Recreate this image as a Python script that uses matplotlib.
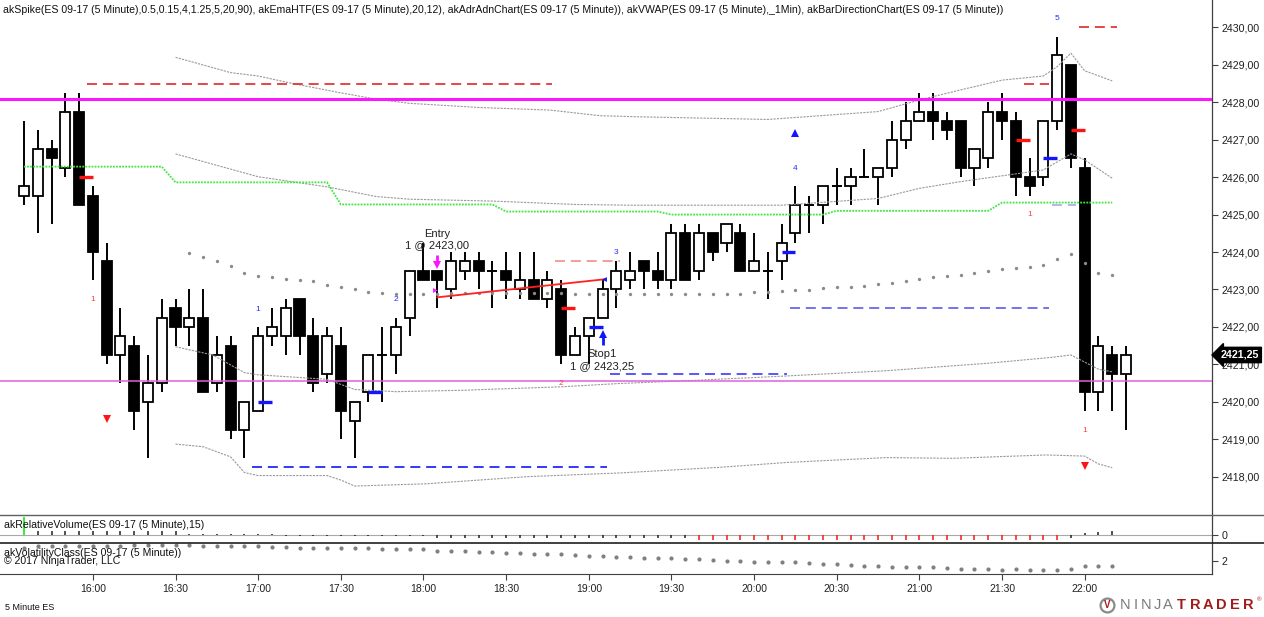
import matplotlib.pyplot as plt
from matplotlib.patches import Rectangle
from matplotlib.lines import Line2D

W, H = 1264, 617

# --- price bars, 15:35 .. 22:15 (5 minute) ---
opens = [2425.5, 2425.5, 2426.75, 2426.25, 2427.75, 2425.5, 2423.75, 2421.25, 2421.5, 2420.0,
         2420.5, 2422.5, 2422.0, 2422.25, 2420.5, 2421.5, 2419.25, 2419.75, 2421.75, 2421.75,
         2422.75, 2421.75, 2420.75, 2421.5, 2419.5, 2420.25, 2421.25, 2421.25, 2422.25, 2423.5,
         2423.5, 2423.0, 2423.5, 2423.75, 2423.5, 2423.5, 2423.0, 2423.25, 2422.75, 2423.0,
         2421.25, 2421.75, 2422.25, 2423.0, 2423.25, 2423.75, 2423.5, 2423.25, 2424.5, 2423.5,
         2424.5, 2424.25, 2424.5, 2423.5, 2423.5, 2423.75, 2424.5, 2425.25, 2425.25, 2425.75,
         2425.75, 2426.0, 2426.0, 2426.25, 2427.0, 2427.5, 2427.75, 2427.5, 2427.5, 2426.25,
         2426.5, 2427.75, 2427.5, 2426.0, 2426.0, 2427.5, 2429.0, 2426.25, 2420.25, 2421.25,
         2420.75]
highs = [2427.5, 2427.25, 2427.0, 2428.25, 2428.25, 2425.75, 2424.25, 2422.5, 2421.75, 2421.25,
         2422.75, 2422.75, 2423.0, 2423.0, 2421.75, 2421.75, 2420.0, 2422.0, 2422.5, 2422.75,
         2422.75, 2422.25, 2422.0, 2422.0, 2420.0, 2421.25, 2422.0, 2422.25, 2423.5, 2424.25,
         2423.5, 2424.0, 2424.0, 2424.0, 2423.75, 2424.0, 2424.0, 2424.0, 2423.5, 2423.25,
         2422.0, 2422.25, 2423.25, 2423.75, 2424.0, 2423.75, 2424.0, 2424.75, 2424.75, 2424.75,
         2424.5, 2424.75, 2424.75, 2424.5, 2424.0, 2424.75, 2425.75, 2425.5, 2425.75, 2426.25,
         2426.25, 2426.75, 2426.25, 2427.5, 2428.0, 2428.25, 2428.25, 2427.75, 2427.5, 2426.75,
         2428.0, 2428.25, 2427.75, 2426.5, 2427.5, 2429.75, 2429.0, 2426.5, 2421.75, 2421.5,
         2421.5]
lows = [2425.25, 2424.5, 2424.75, 2426.0, 2425.25, 2423.25, 2421.0, 2420.5, 2419.25, 2418.5,
        2420.25, 2421.5, 2421.5, 2420.25, 2420.25, 2419.0, 2418.5, 2419.75, 2421.5, 2421.25,
        2421.25, 2420.25, 2420.5, 2419.0, 2418.5, 2420.0, 2420.0, 2420.75, 2421.75, 2423.25,
        2422.5, 2422.75, 2423.25, 2423.0, 2422.5, 2422.75, 2422.75, 2422.75, 2422.5, 2421.0,
        2421.25, 2421.0, 2422.25, 2422.5, 2423.0, 2423.0, 2423.0, 2423.0, 2423.25, 2423.25,
        2423.75, 2424.0, 2423.5, 2423.5, 2422.75, 2423.25, 2424.25, 2424.5, 2424.75, 2425.25,
        2425.25, 2426.0, 2425.25, 2426.0, 2426.75, 2427.5, 2427.0, 2427.0, 2426.0, 2425.75,
        2426.25, 2427.0, 2425.5, 2425.5, 2425.75, 2427.25, 2426.25, 2419.75, 2419.75, 2419.75,
        2419.25]
closes = [2425.75, 2426.75, 2426.5, 2427.75, 2425.25, 2424.0, 2421.25, 2421.75, 2419.75, 2420.5,
          2422.25, 2422.0, 2422.25, 2420.25, 2421.25, 2419.25, 2420.0, 2421.75, 2422.0, 2422.5,
          2421.75, 2420.5, 2421.75, 2419.75, 2420.0, 2421.25, 2421.25, 2422.0, 2423.5, 2423.25,
          2423.25, 2423.75, 2423.75, 2423.5, 2423.5, 2423.25, 2423.25, 2422.75, 2423.25, 2421.25,
          2421.75, 2422.25, 2423.0, 2423.5, 2423.5, 2423.5, 2423.25, 2424.5, 2423.25, 2424.5,
          2424.0, 2424.75, 2423.5, 2423.75, 2423.5, 2424.25, 2425.25, 2425.25, 2425.75, 2425.75,
          2426.0, 2426.0, 2426.25, 2427.0, 2427.5, 2427.75, 2427.5, 2427.25, 2426.25, 2426.75,
          2427.75, 2427.5, 2426.0, 2425.75, 2427.5, 2429.25, 2426.5, 2420.25, 2421.5, 2420.75,
          2421.25]
last_price = 2421.25

time_labels = ['16:00', '16:30', '17:00', '17:30', '18:00', '18:30', '19:00',
               '19:30', '20:00', '20:30', '21:00', '21:30', '22:00']
time_bars = [5, 11, 17, 23, 29, 35, 41, 47, 53, 59, 65, 71, 77]

# --- horizontal levels ---
adr_high = 2428.08
adr_low = 2420.55

# --- ADR/ADN band lines (bar, price) ---
upper_x = [11, 15, 17, 19.5, 23, 25.6, 28, 33, 38.2, 41.8, 44.7, 54, 62, 65, 68, 71, 74, 75, 76, 77, 79]
upper_p = [2429.20, 2428.79, 2428.70, 2428.50, 2428.25, 2428.08, 2427.97, 2427.86, 2427.79, 2427.64,
           2427.61, 2427.54, 2427.75, 2428.06, 2428.33, 2428.59, 2428.70, 2428.95, 2429.31, 2428.84, 2428.57]
mid_x = [11, 17, 22, 25.6, 28, 34, 40, 44, 55, 62, 65, 68, 74, 76, 77, 79]
mid_p = [2426.62, 2426.01, 2425.74, 2425.48, 2425.41, 2425.36, 2425.27, 2425.25, 2425.25, 2425.43,
         2425.70, 2425.88, 2426.19, 2426.62, 2426.46, 2425.97]
lowu_x = [11, 13.7, 16, 17, 22, 24, 27, 32, 39, 43.3, 48, 55.4, 62.6, 70, 74.7, 76, 78, 79]
lowu_p = [2421.47, 2421.25, 2420.78, 2420.72, 2420.60, 2420.33, 2420.27, 2420.31, 2420.40, 2420.49,
          2420.56, 2420.69, 2420.83, 2421.03, 2421.19, 2421.25, 2420.87, 2420.80]
lowl_x = [11, 13, 15, 16, 17, 22, 23, 24, 29.2, 36.5, 43.3, 50.5, 55.4, 62.6, 67.4, 74.2, 77, 78, 79]
lowl_p = [2418.87, 2418.80, 2418.53, 2418.11, 2418.03, 2418.03, 2417.91, 2417.75, 2417.81, 2418.00,
          2418.10, 2418.25, 2418.38, 2418.51, 2418.49, 2418.58, 2418.55, 2418.34, 2418.24]

# --- EMA HTF (hourly steps) ---
ema_start = [0, 11, 23, 35, 47, 59, 71]
ema_level = [2426.28, 2425.86, 2425.27, 2425.08, 2425.00, 2425.10, 2425.32]
ema_last_bar = 79

# --- VWAP dots, bars 12..79 ---
vwap_first = 12
vwap = [2423.98, 2423.87, 2423.77, 2423.63, 2423.45, 2423.36, 2423.32, 2423.27, 2423.25, 2423.22,
        2423.12, 2423.07, 2423.00, 2422.94, 2422.90, 2422.87, 2422.87, 2422.87, 2422.87, 2422.90,
        2422.90, 2422.90, 2422.90, 2422.90, 2422.90, 2422.90, 2422.90, 2422.90, 2422.87, 2422.87,
        2422.87, 2422.87, 2422.87, 2422.87, 2422.87, 2422.87, 2422.87, 2422.87, 2422.87, 2422.87,
        2422.87, 2422.94, 2422.94, 2422.96, 2422.99, 2422.99, 2423.03, 2423.06, 2423.07, 2423.10,
        2423.15, 2423.18, 2423.23, 2423.28, 2423.34, 2423.36, 2423.39, 2423.43, 2423.50, 2423.55,
        2423.58, 2423.61, 2423.65, 2423.81, 2423.95, 2423.70, 2423.45, 2423.39]

# --- dashed level segments ---
seg_x0 = [4.6, 76.6, 72.6, 38.55, 16.55, 42.55, 55.6, 74.6]
seg_x1 = [38.3, 79.35, 74.4, 43.3, 42.3, 55.4, 74.4, 76.4]
seg_p = [2428.5, 2430.0, 2428.5, 2423.75, 2418.25, 2420.75, 2422.5, 2425.25]
seg_col = ['#e02828', '#e02828', '#e02828', '#f08c8c', '#1414ff', '#3a3aff', '#5c5ce6', '#a8a8f0']

# --- short bar markers ---
mark_bar = [4, 17, 25, 39, 41, 55, 72, 74, 76]
mark_p = [2426.0, 2420.0, 2420.25, 2422.5, 2422.0, 2424.0, 2427.0, 2426.5, 2427.25]
mark_col = ['r', 'b', 'b', 'r', 'b', 'b', 'r', 'b', 'r']

# --- bar direction counts ---
count_bar = [5, 17, 27, 39, 43, 56, 73, 75, 77]
count_p = [2422.74, 2422.47, 2422.72, 2420.48, 2423.99, 2426.24, 2424.99, 2430.24, 2419.23]
count_txt = ['1', '1', '2', '2', '3', '4', '1', '5', '1']
count_col = ['r', 'b', 'b', 'r', 'b', 'b', 'r', 'b', 'r']

# --- lower panels ---
rel_vol = [4.6, 0.9, 0.9, 0.9, 0.9, 0.9, 0.9, 0.9, 0.9, 0.9,
           0.9, 0.9, 0.25, 0.25, 0.25, 0.25, 0.25, 0.25, 0.25, -0.2,
           -0.2, -0.2, -0.2, -0.2, -0.2, -0.2, -0.2, -0.2, -0.2, -0.2,
           -0.8, -0.8, -0.8, -0.8, -0.8, -0.8, -0.8, -0.8, -0.8, -0.8,
           -0.8, -0.8, -0.8, -0.8, -0.8, -0.8, -0.8, -0.8, -0.8, -1.25,
           -1.25, -1.25, -1.25, -1.25, -1.25, -1.25, -1.25, -1.25, -1.25, -1.25,
           -1.25, -1.25, -1.25, -1.25, -1.25, -1.25, -1.25, -1.25, -1.25, -1.25,
           -1.25, -1.25, -1.25, -1.25, -1.25, -1.25, -0.8, 0.4, 0.65, 1.1]
vol_class = [3.96, 4.21, 4.21, 4.21, 4.21, 4.26, 4.26, 4.26, 4.36, 4.36,
             4.36, 4.36, 4.36, 4.26, 4.21, 4.21, 4.21, 4.21, 4.01, 4.01,
             3.96, 3.96, 3.96, 3.96, 3.96, 3.96, 3.76, 3.76, 3.76, 3.71,
             3.50, 3.46, 3.46, 3.35, 3.35, 3.20, 3.11, 3.01, 3.01, 3.01,
             2.86, 2.76, 2.71, 2.60, 2.55, 2.36, 2.36, 2.36, 2.26, 2.26,
             2.11, 2.00, 2.00, 1.85, 1.76, 1.76, 1.76, 1.61, 1.50, 1.50,
             1.35, 1.25, 1.25, 1.10, 1.10, 1.01, 1.01, 0.90, 0.75, 0.75,
             0.75, 0.65, 0.75, 0.65, 0.65, 0.65, 0.75, 1.16, 1.16, 1.16]

plt.rcParams['font.family'] = ['Liberation Sans', 'DejaVu Sans']
fig = plt.figure(figsize=(W / 100, H / 100), dpi=100)
fig.patch.set_facecolor('white')

AX_RIGHT = 1212
def px_axes(top, bottom):
    return fig.add_axes([0, 1 - bottom / H, AX_RIGHT / W, (bottom - top) / H])

ax = px_axes(0, 514.5)
axv = px_axes(514.5, 543.3)
axc = px_axes(543.3, 574)

xlim = (-24 / 13.775, (AX_RIGHT - 24) / 13.775)
for a in (ax, axv, axc):
    a.set_xlim(*xlim)
    a.set_facecolor('white')
    for s in ('left', 'top', 'bottom'):
        a.spines[s].set_visible(False)
    a.spines['right'].set_color('#404040')
    a.spines['right'].set_linewidth(0.9)
    a.yaxis.tick_right()
    a.set_xticks([])
    a.tick_params(axis='y', length=4, width=0.8, colors='#404040', labelcolor='#202020', labelsize=7.7, pad=3)

ax.set_ylim(2416.99, 2430.73)
ticks = list(range(2418, 2431))
ax.set_yticks(ticks)
ax.set_yticklabels([f"{t:.2f}".replace('.', ',') for t in ticks])

# candles
bw = 0.73
for i, (o, h, l, c) in enumerate(zip(opens, highs, lows, closes)):
    ax.vlines(i, l, h, color='black', lw=1.4, zorder=3)
    if c == o:
        ax.hlines(o, i - bw / 2, i + bw / 2, color='black', lw=1.4, zorder=4)
    else:
        fc = 'white' if c > o else 'black'
        ax.add_patch(Rectangle((i - bw / 2, min(o, c)), bw, abs(c - o), fc=fc, ec='black', lw=1.3, zorder=4))

# ADR levels
ax.axhline(adr_high, color='#ff14ff', lw=2.2, zorder=6)
ax.axhline(adr_low, color='#e060e0', lw=1.1, zorder=6)

# bands
for bx, bp in ((upper_x, upper_p), (mid_x, mid_p), (lowu_x, lowu_p), (lowl_x, lowl_p)):
    ax.plot(bx, bp, color='#9a9a9a', lw=0.8, ls=(0, (2, 1)), zorder=5)

# EMA HTF step line
ex, ey = [], []
ends = ema_start[1:] + [ema_last_bar + 1]
for s, e, v in zip(ema_start, ends, ema_level):
    ex += [s, e - 1]
    ey += [v, v]
ax.plot(ex, ey, color='#3ee83e', lw=1.3, ls=(0, (1, 0.7)), zorder=5)

# VWAP dots
ax.plot(range(vwap_first, vwap_first + len(vwap)), vwap, 'o', color='#8a8a8a', ms=2.4, mew=0, zorder=6)

# dashed segments
for x0, x1, p, col in zip(seg_x0, seg_x1, seg_p, seg_col):
    ax.plot([x0, x1], [p, p], color=col, lw=1.2, dashes=(6, 3.5), zorder=5)

# bar markers
cmap = {'r': '#ff1414', 'b': '#1414ff'}
for b, p, k in zip(mark_bar, mark_p, mark_col):
    ax.plot([b, b + 1], [p, p], color=cmap[k], lw=2.4, solid_capstyle='butt', zorder=7)

# counts
tcol = {'r': '#ff3c3c', 'b': '#2a2aff'}
for b, p, t, k in zip(count_bar, count_p, count_txt, count_col):
    ax.text(b, p, t, color=tcol[k], fontsize=6, ha='center', va='center', zorder=8)

# spike triangles
ax.plot([6, 77], [2419.53, 2418.29], 'v', color='#ff1414', ms=5.5, mew=0, zorder=8)
ax.plot([56], [2427.19], '^', color='#1414ff', ms=5.5, mew=0, zorder=8)

# trade: entry / stop arrows (shaft + head)
ax.plot([30, 30], [2423.93, 2423.68], color='#ff14ff', lw=2.0, solid_capstyle='butt', zorder=9)
ax.plot([30], [2423.64], 'v', color='#ff14ff', ms=5.5, mew=0, zorder=9)
ax.plot([42, 42], [2421.52, 2421.76], color='#1414ff', lw=2.0, solid_capstyle='butt', zorder=9)
ax.plot([42], [2421.80], '^', color='#1414ff', ms=5.5, mew=0, zorder=9)
ax.plot([30, 42.1], [2422.79, 2423.27], color='#ff2020', lw=1.3, zorder=8)
ax.plot([29.85], [2422.99], '>', color='#ff14ff', ms=3.5, mew=0, zorder=9)
ax.plot([42.1], [2423.27], '<', color='#1414ff', ms=3.5, mew=0, zorder=9)
ax.text(30, 2424.48, 'Entry', fontsize=8, ha='center', va='center', color='#202020', zorder=9)
ax.text(30, 2424.19, '1 @ 2423,00', fontsize=8, ha='center', va='center', color='#202020', zorder=9)
ax.text(42, 2421.28, 'Stop1', fontsize=8, ha='center', va='center', color='#202020', zorder=9)
ax.text(42, 2420.96, '1 @ 2423,25', fontsize=8, ha='center', va='center', color='#202020', zorder=9)

# last price tag
ax.annotate(f"{last_price:.2f}".replace('.', ','), xy=(1.0, last_price), xycoords=('axes fraction', 'data'),
            xytext=(6, 0), textcoords='offset points', color='white', fontsize=7.7, fontweight='bold',
            va='center', ha='left', annotation_clip=False, zorder=10,
            bbox=dict(boxstyle='larrow,pad=0.25', fc='black', ec='black'))

# relative volume panel
axv.set_ylim(-2.075, 5.125)
axv.axhline(0, color='#a8a8a8', lw=0.8)
for i, v in enumerate(rel_vol):
    col = '#22ee22' if v > 3 else ('#ff1414' if v <= -1 else '#202020')
    axv.vlines(i, min(0, v), max(0, v), color=col, lw=1.3 if v > 3 else 1.1, zorder=3)
axv.set_yticks([0])
axv.set_yticklabels(['0'])

# volatility panel
axc.set_ylim(0, 4.62)
axc.plot(range(len(vol_class)), vol_class, 'o', color='#808080', ms=3.0, mew=0)
axc.set_yticks([2])
axc.set_yticklabels(['2'])
axc.spines['bottom'].set_visible(True)
axc.spines['bottom'].set_color('#404040')
axc.set_xticks(time_bars)
axc.set_xticklabels(time_labels)
axc.tick_params(axis='x', length=4, width=0.8, colors='#404040', labelcolor='#202020', labelsize=7.5, pad=3)

# panel separators (full width)
def hline_px(y, color, lw):
    fig.add_artist(Line2D([0, 1], [1 - y / H, 1 - y / H], transform=fig.transFigure, color=color, lw=lw))
hline_px(514.5, '#606060', 1.0)
hline_px(543.3, '#202020', 1.2)

def text_px(x, y, s, **kw):
    kw.setdefault('va', 'center')
    fig.text(x / W, 1 - y / H, s, **kw)

text_px(3, 10, 'akSpike(ES 09-17 (5 Minute),0.5,0.15,4,1.25,5,20,90), akEmaHTF(ES 09-17 (5 Minute),20,12), '
        'akAdrAdnChart(ES 09-17 (5 Minute)), akVWAP(ES 09-17 (5 Minute),_1Min), '
        'akBarDirectionChart(ES 09-17 (5 Minute))', fontsize=7.6, color='#101010')
text_px(4, 524.5, 'akRelativeVolume(ES 09-17 (5 Minute),15)', fontsize=7.6, color='#101010')
text_px(4, 552.5, 'akVolatilityClass(ES 09-17 (5 Minute))', fontsize=7.6, color='#101010')
text_px(4, 561.5, '\u00a9 2017 NinjaTrader, LLC', fontsize=7.6, color='#101010')
text_px(5, 607.5, '5 Minute ES', fontsize=6.5, color='#101010')

# NinjaTrader logo
fig.add_artist(Line2D([1107 / W], [1 - 605 / H], transform=fig.transFigure, marker='o', ms=10,
                      mfc='none', mec='#8a8a8a', mew=1.6))
text_px(1107, 605, 'V', fontsize=7, color='#a01c1c', fontweight='bold', ha='center')
for k, ch in enumerate('NINJA'):
    text_px(1125.3 + 10.6 * k, 605, ch, fontsize=10.5, color='#7a7a7a', ha='center')
for k, ch in enumerate('TRADER'):
    text_px(1181.7 + 13.3 * k, 605, ch, fontsize=10.5, color='#a01c1c', fontweight='bold', ha='center')
text_px(1259.5, 600, '\u00ae', fontsize=4.5, color='#a01c1c', ha='center')

fig.savefig('out.png', dpi=100, facecolor='white')
